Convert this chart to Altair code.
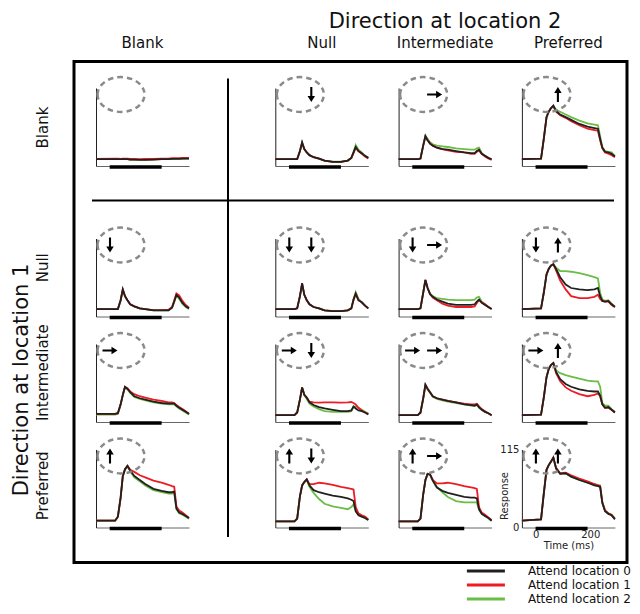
import altair as alt
import pandas as pd

# ---------------- data ----------------
TIME = [-50, 20, 30, 40, 48, 56, 65, 75, 90, 110, 130, 160, 190, 215, 228, 236, 244, 254, 266, 278, 290]

# naming: <direction at loc1><direction at loc2>_<attended location>
# B = Blank, N = Null, I = Intermediate, P = Preferred
BB_0 = [10, 10, 10, 10, 10, 10, 10, 9.5, 9.5, 9, 9, 9.5, 10, 10, 10.5, 10.5, 10.5, 10.5, 11, 11, 11]
BB_1 = [10.5, 11, 11, 10.5, 11, 11, 11, 10.5, 10.5, 10, 10.5, 10.5, 11, 11, 11.5, 11.5, 11.5, 11.5, 12, 12, 12]
BB_2 = [10, 10, 10, 10, 10, 10, 10, 9, 9, 9, 9, 9.5, 10, 10, 10, 10.5, 10.5, 10.5, 10.5, 11, 11]

BN_0 = [10, 10, 10, 22, 35, 25, 20, 16, 13, 11, 8, 6, 6, 8, 12, 20, 28, 22, 19, 15, 12]
BN_1 = [10, 10, 10.5, 22, 34, 25, 20, 16, 13, 11, 8, 6, 6, 8, 12, 19, 27, 22, 18, 14, 11]
BN_2 = [10, 10, 10, 21, 34, 25, 20, 16, 13, 11, 8, 6.5, 6.5, 8, 12, 21, 31, 24, 20, 15, 12]

BI_0 = [10, 10, 11, 30, 44, 38, 33, 30, 27, 25, 24, 22, 20, 19, 19, 22, 24, 18, 15, 12, 10]
BI_1 = [10, 10, 11, 30, 43, 38, 33, 30, 27, 25, 23, 21, 20, 18, 18, 21, 23, 18, 14, 11, 9]
BI_2 = [10, 10, 11, 31, 45, 40, 35, 32, 30, 29, 28, 26, 25, 24, 24, 26, 27, 19, 15, 12, 10]

BP_0 = [10, 11, 40, 72, 80, 85, 89, 81, 76, 72, 68, 62, 58, 56, 55, 40, 27, 21, 20, 18, 14]
BP_1 = [10, 11, 40, 72, 80, 85, 88, 80, 75, 71, 66, 60, 55, 53, 52, 38, 26, 20, 18, 16, 13]
BP_2 = [10, 11, 40, 72, 80, 85, 89, 83, 80, 76, 72, 67, 63, 61, 60, 44, 28, 22, 21, 20, 15]

NB_0 = [11, 11, 11, 24, 40, 30, 24, 18, 15, 12, 11, 9, 9, 9, 13, 22, 32, 28, 20, 15, 12]
NB_1 = [11, 11, 11, 24, 40, 30, 24, 18, 15, 12, 11, 9.5, 9.5, 10, 14, 24, 34, 31, 23, 17, 13]
NB_2 = [11, 11, 11, 23, 39, 30, 24, 18, 15, 12, 11, 9, 9, 9, 13, 21, 31, 26, 19, 14, 11]

NN_0 = [11, 11, 12, 30, 49, 32, 24, 18, 14, 12, 9, 8, 8, 9, 12, 25, 34, 24, 21, 16, 12]
NN_1 = [11, 11, 12, 30, 48, 32, 24, 18, 14, 12, 9, 8, 8, 9, 12, 24, 33, 24, 21, 16, 12]
NN_2 = [11, 11, 12, 29, 48, 32, 24, 18, 14, 12, 9, 8, 8, 9, 12, 26, 36, 26, 21, 16, 12]

NI_0 = [11, 11, 12, 35, 54, 42, 33, 29, 25, 22, 19, 17, 17, 17, 18, 22, 25, 20, 17, 14, 11]
NI_1 = [11, 11, 12, 35, 54, 42, 33, 28, 24, 19, 16, 14, 14, 14, 15, 20, 24, 21, 18, 14, 11]
NI_2 = [11, 11, 12, 35, 54, 42, 34, 30, 27, 26, 25, 24, 24, 24, 25, 28, 29, 22, 18, 14, 11]

NP_0 = [11, 12, 35, 62, 70, 75, 77, 70, 58, 47, 42, 40, 39, 40, 42, 30, 23, 22, 23, 18, 14]
NP_1 = [11, 12, 35, 62, 70, 75, 77, 68, 53, 40, 30, 27, 27, 29, 32, 26, 23, 22, 22, 17, 14]
NP_2 = [11, 12, 35, 62, 70, 75, 77, 72, 67, 67, 66, 64, 61, 58, 56, 35, 25, 23, 24, 19, 15]

IB_0 = [12, 12, 13, 26, 40, 52, 49, 44, 38, 35, 33, 30, 28, 27, 27, 27, 24, 21, 18, 15, 12]
IB_1 = [12, 12, 13, 26, 40, 52, 50, 45, 41, 38, 36, 33, 31, 29, 29, 28, 25, 22, 19, 16, 12]
IB_2 = [11, 11, 12, 25, 39, 51, 48, 43, 37, 34, 32, 29, 27, 26, 26, 26, 23, 20, 17, 14, 11]

IN_0 = [10, 10, 14, 33, 51, 40, 36, 29, 25, 22, 20, 18, 16, 16, 17, 23, 20, 17, 16, 14, 11]
IN_1 = [10, 10, 14, 33, 51, 40, 36, 30, 29, 28.5, 29, 29, 28.5, 29, 29.5, 28, 26, 21, 17, 14, 12]
IN_2 = [10, 10, 14, 33, 51, 40, 34, 27, 23, 19, 16, 15, 15, 15, 16, 22, 23, 21, 18, 15, 12]

II_0 = [10, 10, 14, 35, 55, 49, 44, 38, 35, 33, 31, 29, 26, 25, 24, 26, 22, 18, 15, 13, 10]
II_1 = [10, 10, 14, 35, 55, 49, 44, 38, 35, 33, 31, 29, 27, 26, 26, 27, 23, 19, 16, 13, 10]
II_2 = [10, 10, 13, 34, 54, 48, 43, 37, 34, 32, 30, 28, 26, 24, 24, 25, 21, 18, 15, 13, 10]

IP_0 = [10, 11, 36, 66, 78, 84, 87, 74, 63, 56, 52, 48, 46, 45, 45, 39, 26, 21, 22, 18, 14]
IP_1 = [10, 11, 36, 66, 78, 84, 87, 72, 60, 51, 46, 41, 38, 40, 42, 38, 26, 21, 21, 18, 14]
IP_2 = [10, 11, 36, 66, 78, 84, 87, 76, 72, 69, 67, 64, 61, 60, 60, 52, 28, 24, 24, 19, 15]

PB_0 = [10, 10, 16, 44, 76, 86, 91, 84, 76, 70, 64, 57, 54, 52, 52, 53, 28, 22, 20, 17, 14]
PB_1 = [10, 10, 16, 44, 76, 86, 91, 85, 82, 77, 74, 69, 66, 63, 61, 60, 31, 25, 22, 18, 14]
PB_2 = [10, 10, 16, 43, 75, 85, 90, 83, 74, 68, 62, 55, 52, 50, 50, 51, 27, 21, 19, 16, 13]

PN_0 = [9, 9, 13, 46, 62, 67, 71, 62, 55, 52, 50, 47, 45, 43, 41, 39, 24, 18, 16, 14, 11]
PN_1 = [9, 9, 13, 46, 62, 67, 71, 64, 64, 66, 65, 63, 60, 58, 57, 56, 30, 21, 18, 16, 12]
PN_2 = [9, 9, 13, 46, 62, 67, 70, 60, 51, 42, 35, 31, 29, 27, 30, 34, 24, 19, 16, 14, 11]

PI_0 = [9, 9, 13, 49, 70, 79, 78, 69, 59, 54, 51, 48, 45, 44, 44, 43, 27, 20, 17, 14, 10]
PI_1 = [9, 9, 13, 49, 70, 79, 78, 70, 65, 65, 66, 64, 61, 59, 58, 57, 30, 22, 19, 15, 11]
PI_2 = [9, 9, 13, 49, 70, 79, 78, 69, 60, 52, 45, 39, 37, 37, 37, 37, 26, 20, 17, 14, 10]

PP_0 = [10, 12, 50, 85, 92, 97, 103, 87, 79, 80, 75, 70, 66, 62, 61, 60, 36, 24, 20, 18, 12]
PP_1 = [10, 12, 50, 85, 92, 97, 103, 88, 80, 81, 77, 72, 68, 64, 62, 61, 37, 25, 21, 18, 13]
PP_2 = [10, 12, 50, 85, 92, 97, 102, 87, 79, 80, 75, 70, 66, 64, 63, 62, 38, 25, 21, 19, 13]

DIRECTIONS = ["Blank", "Null", "Intermediate", "Preferred"]
CODES = ["B", "N", "I", "P"]
SERIES = ["Attend location 0", "Attend location 1", "Attend location 2"]
COLORS = ["#231f20", "#ed1c24", "#6abd45"]
STIM = [0, 190]           # stimulus period (ms)
X_DOMAIN = [-50, 290]
Y_MAX = 115
ARROW_ANGLE = {"Null": 0, "Intermediate": 270, "Preferred": 180}

SERIES_DATA = {a + b: [globals()[f"{a}{b}_{k}"] for k in range(3)] for a in CODES for b in CODES}

# ---------------- layout / style ----------------
FONT = "DejaVu Sans"
PW, PH = 93, 78
PW0 = 149          # first column wider (gap before column 2)
TOP_PAD = 45       # second row taller (gap under the first row)
ELLIPSE = "M-1,0 A1,0.74 0 1,1 1,0 A1,0.74 0 1,1 -1,0 Z"
ARROW = "M-0.14,-1 L0.14,-1 L0.14,0.2 L0.5,0.2 L0,1 L-0.5,0.2 L-0.14,0.2 Z"
ONE = pd.DataFrame({"k": [0]})
DRAW_ORDER = [2, 1, 0]   # green, red, then black on top


def text_layer(label, x, y, size, angle=0, align="center", color="#111"):
    return alt.Chart(pd.DataFrame({"label": [label]})).mark_text(
        font=FONT, fontSize=size, angle=angle, align=align, baseline="middle", color=color
    ).encode(text="label:N", x=alt.value(x), y=alt.value(y))


def panel(r, c):
    key = CODES[r] + CODES[c]
    w = PW0 if c == 0 else PW
    top = TOP_PAD if r == 1 else 0
    h = PH + top
    last = (r == 3 and c == 3)

    rows = []
    for k in DRAW_ORDER:
        for t, v in zip(TIME, SERIES_DATA[key][k]):
            rows.append({"t": t, "resp": v, "series": SERIES[k]})
    df = pd.DataFrame(rows)

    xs = alt.Scale(domain=X_DOMAIN, range=[0, PW], nice=False, zero=False)
    ys = alt.Scale(domain=[0, Y_MAX], range=[h, top], nice=False)
    if last:
        xa = alt.Axis(values=[0, 200], ticks=False, grid=False, labelFont=FONT,
                      labelFontSize=10, labelPadding=2, labelColor="#222", labelFlush=False,
                      title="Time (ms)", titleFont=FONT, titleFontSize=10, titleFontWeight="normal",
                      titlePadding=1, titleColor="#222", domainColor="#666", domainWidth=1)
        ya = alt.Axis(values=[0, Y_MAX], ticks=False, grid=False, labelFont=FONT,
                      labelFontSize=10, labelPadding=3, labelColor="#222", labelFlush=False,
                      title="Response", titleFont=FONT, titleFontSize=10, titleFontWeight="normal",
                      titleColor="#222", titleX=-17, titleY=46, titleAngle=270, titleAlign="center",
                      titleBaseline="middle", domainColor="#222", domainWidth=1)
    else:
        xa = alt.Axis(ticks=False, labels=False, grid=False, title=None, domainColor="#666", domainWidth=1)
        ya = alt.Axis(ticks=False, labels=False, grid=False, title=None, domainColor="#222", domainWidth=1)

    layers = []
    # stimulus bar (just under the time axis)
    stim = pd.DataFrame({"t": [STIM[0]], "t2": [STIM[1]]})
    layers.append(alt.Chart(stim).mark_rule(color="black", strokeWidth=3.5).encode(
        x=alt.X("t:Q", scale=xs, axis=xa), x2="t2:Q", y=alt.value(h + 1)))
    # response lines, one layer, colour per attended location
    layers.append(alt.Chart(df).mark_line(strokeWidth=1.8).encode(
        x=alt.X("t:Q", scale=xs, axis=xa),
        y=alt.Y("resp:Q", scale=ys, axis=ya),
        color=alt.Color("series:N", scale=alt.Scale(domain=SERIES, range=COLORS), legend=None)))
    # dashed receptive-field ellipse
    layers.append(alt.Chart(ONE).mark_point(shape=ELLIPSE, filled=False, size=2209, color="#8a8a8a",
                                            strokeWidth=2.5, strokeDash=[5.5, 4], opacity=1).encode(
        x=alt.value(25), y=alt.value(top + 6.5)))
    # arrows (location 1 left, location 2 right)
    for d, xpos in [(DIRECTIONS[r], 14), (DIRECTIONS[c], 36)]:
        if d in ARROW_ANGLE:
            layers.append(alt.Chart(ONE).mark_point(shape=ARROW, filled=True, size=225, color="black",
                                                    opacity=1, angle=ARROW_ANGLE[d], strokeWidth=0).encode(
                x=alt.value(xpos), y=alt.value(top + 6.5)))
    # column labels
    if r == 0:
        layers.append(text_layer(DIRECTIONS[c], PW / 2, -45.3, 15))
    # row labels
    if c == 0:
        ry = {0: 39.5, 1: 74.3, 2: 28.7, 3: 36.3}[r]
        layers.append(text_layer(DIRECTIONS[r], -53, ry, 15, angle=270))
    # frame, separators, main titles and an invisible layout anchor
    if r == 0 and c == 0:
        layers.append(alt.Chart(ONE).mark_rect(opacity=0).encode(
            x=alt.value(-88), x2=alt.value(-87), y=alt.value(-79.5), y2=alt.value(-78.5)))
        layers.append(alt.Chart(ONE).mark_rect(filled=False, stroke="black", strokeWidth=3).encode(
            x=alt.value(-22), x2=alt.value(531), y=alt.value(-26.5), y2=alt.value(474.5)))
        layers.append(alt.Chart(ONE).mark_rule(color="black", strokeWidth=2).encode(
            x=alt.value(132), y=alt.value(-9.5), y2=alt.value(449)))
        layers.append(alt.Chart(ONE).mark_rule(color="black", strokeWidth=2).encode(
            y=alt.value(112.5), x=alt.value(-4), x2=alt.value(518)))
        layers.append(text_layer("Direction at location 2", 349, -66, 21))
        layers.append(text_layer("Direction at location 1", -74.3, 292, 21, angle=270))
    # legend
    if last:
        for k in range(3):
            yk = 121.5 + 14 * k
            layers.append(alt.Chart(ONE).mark_rule(color=COLORS[k], strokeWidth=3).encode(
                x=alt.value(-55), x2=alt.value(-17), y=alt.value(yk)))
            layers.append(text_layer(SERIES[k], 6, yk, 12, align="left"))

    return alt.layer(*layers).properties(width=w, height=h)


panels = [panel(r, c) for r in range(4) for c in range(4)]
chart = alt.concat(*panels, columns=4, spacing={"row": 27.5, "column": 30.3},
                   bounds="flush", align="each").configure_view(stroke=None).properties(padding=0)

chart.save("out.html", embed_options={"renderer": "svg", "actions": False})
